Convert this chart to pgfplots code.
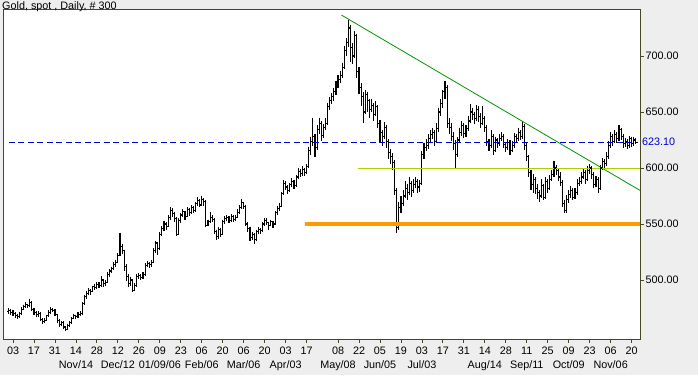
\documentclass[border=0pt]{standalone}
\usepackage{pgfplots}
\pgfplotsset{compat=1.18}
\usepackage{pgfplotstable}
\usepackage{fontspec}
\setmainfont{Liberation Sans}
\definecolor{bgc}{RGB}{238,238,238}
\definecolor{framec}{RGB}{72,72,32}
\definecolor{trendgreen}{RGB}{0,150,0}
\definecolor{ylwgreen}{RGB}{170,210,0}
\definecolor{orangeline}{RGB}{255,153,0}
\definecolor{lastblue}{RGB}{0,0,210}
\pgfdeclareplotmark{otick}{\pgfpathmoveto{\pgfqpoint{-1.8pt}{0pt}}\pgfpathlineto{\pgfqpoint{0pt}{0pt}}\pgfusepathqstroke}
\pgfdeclareplotmark{ctick}{\pgfpathmoveto{\pgfqpoint{0pt}{0pt}}\pgfpathlineto{\pgfqpoint{1.8pt}{0pt}}\pgfusepathqstroke}
\pgfdeclareplotmark{nothing}{}
\pgfplotstableread{
i o h l c
0 472 475 470 473
1 473 474 469 471
2 471 473 468 470
3 470 471 466 468
4 468 470 465 467
5 467 471 466 470
6 470 476 469 474
7 474 478 473 476
8 476 480 475 478
9 478 479 475 477
10 477 483 476 480
11 480 481 472 474
12 474 475 469 471
13 471 472 467 469
14 469 472 467 470
15 470 471 463 465
16 465 466 461 463
17 463 466 462 464
18 464 469 463 468
19 468 473 467 471
20 471 476 470 474
21 474 475 471 473
22 473 474 468 469
23 469 470 462 464
24 464 465 458 460
25 460 463 459 462
26 462 463 456 458
27 458 459 454 456
28 456 461 455 459
29 459 463 458 462
30 462 467 461 466
31 466 470 465 468
32 468 469 465 467
33 467 471 466 469
34 469 472 468 470
35 470 480 469 479
36 479 487 478 485
37 485 490 483 488
38 488 493 487 491
39 491 492 487 490
40 490 495 489 494
41 494 496 491 493
42 493 498 492 496
43 496 498 493 495
44 495 504 494 500
45 500 501 494 497
46 497 500 495 498
47 498 507 497 505
48 505 510 503 508
49 508 512 506 510
50 510 516 509 514
51 514 518 512 516
52 516 524 515 522
53 522 542 521 530
54 530 532 523 526
55 526 527 508 512
56 512 514 499 503
57 503 505 494 497
58 497 503 495 500
59 500 501 489 491
60 491 497 490 495
61 495 505 494 503
62 503 506 501 504
63 504 505 500 502
64 502 507 501 505
65 505 515 504 513
66 513 517 512 515
67 515 516 511 514
68 514 518 512 516
69 516 529 515 526
70 526 535 524 533
71 533 534 522 528
72 528 543 527 541
73 541 548 539 546
74 546 553 544 550
75 550 552 545 548
76 548 558 547 556
77 556 565 554 562
78 562 564 556 559
79 559 561 552 555
80 555 556 539 541
81 541 555 540 553
82 553 560 551 558
83 558 563 556 561
84 561 562 554 557
85 557 565 556 563
86 563 564 557 560
87 560 567 559 565
88 565 566 560 562
89 562 570 561 568
90 568 574 566 571
91 571 572 565 567
92 567 575 566 572
93 572 573 566 570
94 570 571 547 549
95 549 554 548 552
96 552 561 551 556
97 556 558 552 554
98 554 555 541 543
99 543 545 536 539
100 539 547 537 545
101 545 546 538 541
102 541 554 540 552
103 552 557 550 555
104 555 558 553 556
105 556 557 551 553
106 553 559 552 557
107 557 558 552 554
108 554 558 553 556
109 556 563 555 560
110 560 567 559 565
111 565 572 563 569
112 569 570 563 566
113 566 567 548 550
114 550 552 543 546
115 546 547 535 538
116 538 543 536 541
117 541 542 532 536
118 536 545 535 543
119 543 547 541 545
120 545 546 541 544
121 544 552 543 550
122 550 555 548 553
123 553 555 549 551
124 551 552 545 549
125 549 554 548 552
126 552 553 546 550
127 550 562 549 560
128 560 566 558 564
129 564 569 562 566
130 566 579 565 577
131 577 589 576 586
132 586 588 580 583
133 583 585 577 580
134 580 587 579 585
135 585 591 583 588
136 588 589 581 584
137 584 594 583 592
138 592 600 590 597
139 597 599 592 595
140 595 602 593 599
141 599 600 593 596
142 596 604 595 601
143 601 619 600 616
144 616 628 612 624
145 624 645 620 628
146 628 630 610 618
147 618 638 616 634
148 634 645 630 640
149 640 642 624 629
150 629 639 627 636
151 636 645 634 640
152 640 658 638 655
153 655 663 652 660
154 660 667 657 664
155 664 671 660 668
156 668 678 665 674
157 674 683 671 679
158 679 687 676 683
159 683 694 680 690
160 690 709 688 705
161 705 716 700 712
162 712 732 708 725
163 725 728 695 708
164 708 712 693 700
165 700 722 698 718
166 718 720 680 686
167 686 690 666 672
168 672 676 655 664
169 664 668 640 650
170 650 670 648 666
171 666 668 650 660
172 660 662 645 652
173 652 662 650 656
174 656 658 642 648
175 648 660 646 655
176 655 656 636 640
177 640 643 622 632
178 632 634 620 628
179 628 641 626 636
180 636 638 618 624
181 624 626 608 614
182 614 617 604 610
183 610 613 598 605
184 605 607 576 580
185 580 582 542 547
186 547 570 545 565
187 565 575 560 568
188 568 580 566 575
189 575 588 573 582
190 582 586 571 578
191 578 592 576 586
192 586 588 574 580
193 580 590 578 585
194 585 592 582 588
195 588 590 578 583
196 583 589 579 586
197 586 615 585 612
198 612 622 608 618
199 618 626 615 620
200 620 630 617 626
201 626 634 622 630
202 630 636 626 632
203 632 634 620 624
204 624 640 622 635
205 635 654 632 650
206 650 662 646 658
207 658 670 654 668
208 668 678 662 672
209 672 674 636 640
210 640 645 630 636
211 636 640 624 628
212 628 632 616 622
213 622 625 600 612
214 612 628 610 625
215 625 636 622 632
216 632 642 629 638
217 638 640 627 631
218 631 638 628 635
219 635 646 633 642
220 642 657 640 650
221 650 654 643 648
222 648 650 639 644
223 644 656 642 652
224 652 655 641 646
225 646 649 636 640
226 640 655 638 644
227 644 646 632 636
228 636 638 620 624
229 624 626 615 620
230 620 634 618 628
231 628 630 612 616
232 616 628 614 625
233 625 627 618 622
234 622 630 620 626
235 626 632 624 628
236 628 630 618 621
237 621 623 614 618
238 618 626 616 623
239 623 625 612 616
240 616 624 614 620
241 620 631 618 628
242 628 630 622 626
243 626 636 624 632
244 632 634 625 628
245 628 642 626 637
246 637 639 616 620
247 620 622 606 610
248 610 612 592 596
249 596 598 580 585
250 585 595 578 590
251 590 592 577 582
252 582 586 572 578
253 578 580 570 575
254 575 590 573 584
255 584 586 571 574
256 574 592 572 588
257 588 590 578 582
258 582 594 580 590
259 590 598 588 594
260 594 606 592 600
261 600 603 594 598
262 598 600 588 592
263 592 596 584 587
264 587 589 565 568
265 568 571 560 562
266 562 576 560 572
267 572 580 569 576
268 576 584 573 580
269 580 582 571 574
270 574 582 572 578
271 578 590 576 586
272 586 592 584 588
273 588 596 586 592
274 592 600 590 596
275 596 598 586 590
276 590 602 588 598
277 598 604 595 600
278 600 602 590 594
279 594 596 582 585
280 585 593 583 590
281 590 592 578 582
282 582 603 580 600
283 600 609 598 606
284 606 608 600 604
285 604 614 602 610
286 610 624 608 620
287 620 632 618 628
288 628 630 620 624
289 624 634 622 630
290 630 632 622 626
291 626 638 624 634
292 634 636 625 628
293 628 630 618 622
294 622 627 619 624
295 624 626 617 620
296 620 629 618 626
297 626 628 619 622
298 622 628 620 625
299 625 627 621 623.1
}\gold

\begin{document}
\begin{tikzpicture}
\useasboundingbox (0,0) rectangle (698pt,375pt);
\fill[bgc] (0,0) rectangle (698pt,375pt);
\begin{axis}[
  at={(4pt,36pt)}, anchor=south west,
  scale only axis, width=636pt, height=329pt,
  xmin=-2.3, xmax=301, ymin=447.3, ymax=741.1,
  axis background/.style={fill=white},
  axis line style={framec, line width=1pt},
  tick style={framec, line width=0.8pt},
  tick align=outside, major tick length=3.5pt,
  ytick pos=right, yticklabel pos=right, xtick pos=bottom,
  ytick={500,550,600,650,700},
  yticklabels={500.00,550.00,600.00,650.00,700.00},
  yticklabel style={anchor=west, inner sep=0pt, xshift=2pt, font=\fontsize{10.8}{14}\selectfont},
  extra y ticks={623.1}, extra y tick labels={623.10},
  extra y tick style={major tick length=0pt, yticklabel style={text=lastblue}},
  xtick={2,12,22,32,42,52,62,72,82,92,102,112,122,132,142,157,167,177,187,197,207,217,227,237,247,257,267,277,287,297},
  xticklabels={03,17,31,{14\\Nov/14},28,{12\\Dec/12},26,{09\\01/09/06},23,{06\\Feb/06},20,{06\\Mar/06},20,{03\\Apr/03},17,
    {08\\May/08},22,{05\\Jun/05},19,{03\\Jul/03},17,31,{14\\Aug/14},28,{11\\Sep/11},25,{09\\Oct/09},23,{06\\Nov/06},20},
  xticklabel style={align=center, anchor=north, inner sep=0pt, yshift=-4pt, font=\fontsize{10.8}{14}\selectfont},
]
\addplot[black, only marks, mark=nothing, error bars/.cd, y dir=minus, y explicit, error mark=none,
  error bar style={black, line width=1.1pt}]
  table[x=i, y=h, y error expr=\thisrow{h}-\thisrow{l}] {\gold};
\addplot[black, only marks, mark=otick, mark options={line width=1.1pt}] table[x=i, y=o] {\gold};
\addplot[black, only marks, mark=ctick, mark options={line width=1.1pt}] table[x=i, y=c] {\gold};
\addplot[lastblue, line width=1pt, dash pattern=on 6pt off 3.5pt] coordinates {(0,623.1) (300,623.1)};
\addplot[trendgreen, line width=0.8pt] coordinates {(158.6,736.6) (301,580)};
\addplot[ylwgreen, line width=1pt] coordinates {(166.5,600) (301,600)};
\addplot[orangeline, line width=3.5pt] coordinates {(141.4,550) (301,550)};
\end{axis}
\node[anchor=base west, inner sep=0pt, font=\fontsize{10.8}{13}\selectfont] at (2pt,365.5pt) {Gold, spot , Daily, \# 300};
\end{tikzpicture}
\end{document}
